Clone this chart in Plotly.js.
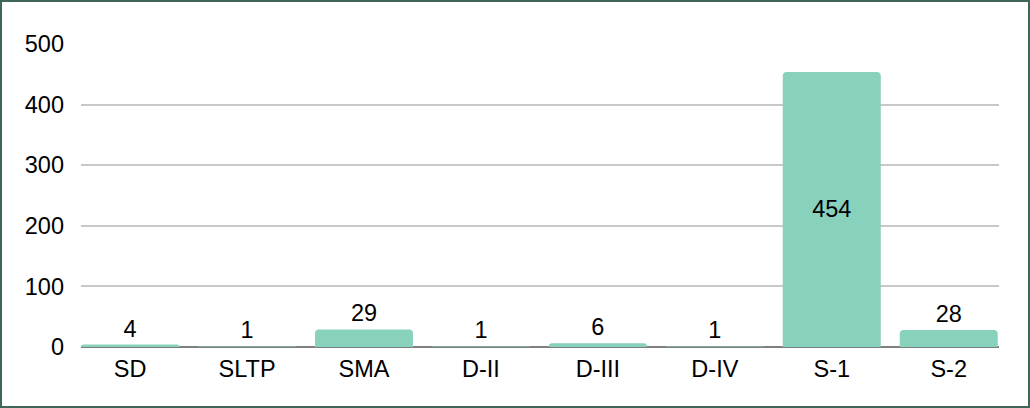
<!DOCTYPE html>
<html>
<head>
<meta charset="utf-8">
<script src="https://cdn.plot.ly/plotly-3.0.1.min.js"></script>
<style>
  html, body { margin: 0; padding: 0; background: #fff; }
  #wrap { width: 1030px; height: 408px; box-sizing: border-box; border: 2px solid #3f6657; overflow: hidden; }
  #chart { width: 1026px; height: 404px; }
</style>
</head>
<body>
<div id="wrap"><div id="chart"></div></div>
<script>
const categories = ["SD", "SLTP", "SMA", "D-II", "D-III", "D-IV", "S-1", "S-2"];
const values = [4, 1, 29, 1, 6, 1, 454, 28];
const yTicks = [0, 100, 200, 300, 400, 500];

const FS = 23.5;

const trace = {
  type: "bar",
  x: categories,
  y: values,
  text: values.map(String),
  textposition: values.map(v => v > 100 ? "inside" : "outside"),
  insidetextanchor: "middle",
  textfont: { family: "Liberation Sans, Arial, sans-serif", size: FS, color: "#000" },
  outsidetextfont: { color: "#000" },
  insidetextfont: { color: "#000" },
  constraintext: "none",
  cliponaxis: false,
  marker: { color: "#88d1bc", line: { width: 0 } },
  hoverinfo: "none"
};

const layout = {
  width: 1026,
  height: 404,
  margin: { l: 79, r: 29, t: 42, b: 59 },
  paper_bgcolor: "#fff",
  plot_bgcolor: "#fff",
  font: { family: "Liberation Sans, Arial, sans-serif", size: FS, color: "#000" },
  showlegend: false,
  bargap: 0.162,
  barcornerradius: 4,
  xaxis: {
    type: "category",
    range: [-0.42, 7.43],
    showgrid: false,
    showline: false,
    zeroline: false,
    ticks: "",
    tickfont: { size: FS },
    ticklabelstandoff: 5
  },
  yaxis: {
    range: [0, 500],
    tickvals: yTicks,
    ticktext: yTicks.map(String),
    showgrid: true,
    gridcolor: "#c8c8c8",
    gridwidth: 2,
    zeroline: true,
    zerolinecolor: "#7f7f7f",
    zerolinewidth: 2,
    showline: false,
    ticks: "",
    tickfont: { size: FS },
    ticklabelstandoff: 16
  }
};

Plotly.newPlot("chart", [trace], layout, { staticPlot: true, displayModeBar: false });
</script>
</body>
</html>
